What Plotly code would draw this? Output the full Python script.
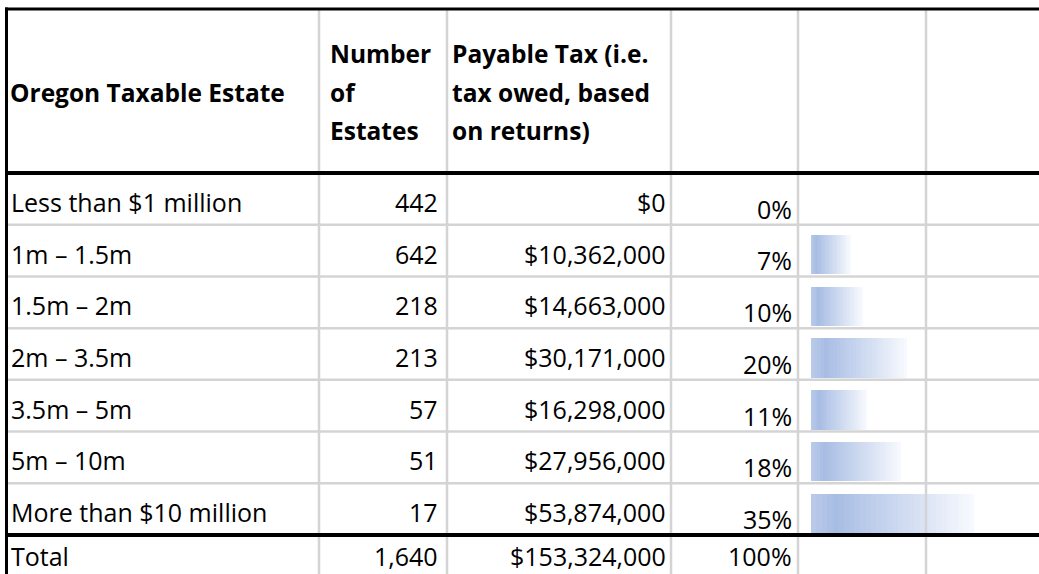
import plotly.graph_objects as go

# ---------------- data ----------------
header_estate = ["Oregon Taxable Estate"]
header_count = ["Number", "of", "Estates"]
header_tax = ["Payable Tax (i.e.", "tax owed, based", "on returns)"]

categories = ["Less than $1 million", "1m \u2013 1.5m", "1.5m \u2013 2m", "2m \u2013 3.5m",
              "3.5m \u2013 5m", "5m \u2013 10m", "More than $10 million"]
estates = [442, 642, 218, 213, 57, 51, 17]
payable_tax = [0, 10362000, 14663000, 30171000, 16298000, 27956000, 53874000]
total_label = "Total"

total_estates = sum(estates)
total_tax = sum(payable_tax)
shares = [t / total_tax for t in payable_tax]

# ---------------- layout constants (pixels) ----------------
W, H = 1039, 574
col_lines = [319, 447, 671, 798, 926]
left_x = 6.5
top_y = 9
head_bottom = 173
row_h = (535 - 173) / 7
n = len(categories)
row_lines = [head_bottom + i * row_h for i in range(n + 1)]

FONT = "Open Sans"
BODY = 25
HEAD = 24.5
GRID = "#D4D4D4"

fig = go.Figure()

# ---------- data bars (gradient via overlaid segments) ----------
NSEG = 30
BAR_MIN = -0.0236          # data-bar axis starts slightly below zero (Excel minimum bar length)
c_left = (188, 203, 234)
c_peak = (168, 189, 228)
c_end = (248, 250, 254)


def seg_color(f):
    if f < 0.15:
        t = f / 0.15
        a, b = c_left, c_peak
    else:
        t = (f - 0.15) / 0.85
        a, b = c_peak, c_end
    return "rgb(%d,%d,%d)" % tuple(round(a[i] + (b[i] - a[i]) * t) for i in range(3))


seg_len = [((s - BAR_MIN) / NSEG) if s > 0 else 0 for s in shares]
for k in range(NSEG):
    fig.add_trace(go.Bar(
        y=list(range(n)), x=seg_len, base=[BAR_MIN + k * L for L in seg_len],
        orientation="h", xaxis="x2", yaxis="y2", width=0.76, offset=-0.3,
        marker=dict(color=seg_color((k + 0.5) / NSEG), line=dict(width=0)),
        hoverinfo="skip", showlegend=False))

shapes = []
for y in row_lines[1:-1]:
    shapes.append(dict(type="line", xref="x", yref="y", x0=left_x, x1=W, y0=y, y1=y,
                       line=dict(color=GRID, width=2.5)))
for x in col_lines:
    shapes.append(dict(type="line", xref="x", yref="y", x0=x, x1=x, y0=top_y, y1=H,
                       line=dict(color=GRID, width=2.5)))
for y, wdt in [(top_y, 3), (head_bottom, 4), (row_lines[-1], 4)]:
    shapes.append(dict(type="line", xref="x", yref="y", x0=left_x - 1.5, x1=W, y0=y, y1=y,
                       line=dict(color="black", width=wdt)))
shapes.append(dict(type="line", xref="x", yref="y", x0=left_x, x1=left_x, y0=top_y - 1.5, y1=H,
                   line=dict(color="black", width=3)))

ann = []


def txt(x, y, s, anchor, bold=False, size=BODY):
    ann.append(dict(x=x, y=y, xref="x", yref="y", text=("<b>%s</b>" % s) if bold else s,
                    showarrow=False, xanchor=anchor, yanchor="middle",
                    font=dict(family=FONT, size=size, color="black")))


head_mid = 92
pitch = 38.5
txt(8, head_mid, header_estate[0], "left", True, HEAD)
for i, s in enumerate(header_count):
    txt(328, head_mid + (i - 1) * pitch, s, "left", True, HEAD)
for i, s in enumerate(header_tax):
    txt(450, head_mid + (i - 1) * pitch, s, "left", True, HEAD)

for i in range(n):
    yc = row_lines[i] + row_h / 2 + 3
    txt(9, yc, categories[i], "left")
    txt(440, yc, f"{estates[i]:,}", "right")
    txt(668, yc, f"${payable_tax[i]:,}", "right")
    txt(794, row_lines[i + 1] - 16, f"{round(shares[i] * 100)}%", "right")

yt = row_lines[-1] + 21
txt(9, yt, total_label, "left")
txt(440, yt, f"{total_estates:,}", "right")
txt(668, yt, f"${total_tax:,}", "right")
txt(794, yt, "100%", "right")

fig.update_layout(
    width=W, height=H, margin=dict(l=0, r=0, t=0, b=0),
    paper_bgcolor="white", plot_bgcolor="white",
    xaxis=dict(range=[0, W], visible=False, domain=[0, 1], fixedrange=True),
    yaxis=dict(range=[H, 0], visible=False, domain=[0, 1], fixedrange=True),
    xaxis2=dict(range=[BAR_MIN, max(shares)], visible=False, anchor="y2",
                domain=[811 / W, 974 / W], fixedrange=True),
    yaxis2=dict(range=[n - 0.5, -0.5], visible=False, anchor="x2",
                domain=[1 - row_lines[-1] / H, 1 - head_bottom / H], fixedrange=True),
    barmode="overlay", bargap=0,
    shapes=shapes, annotations=ann,
)

fig.write_html("out.html", config={"displayModeBar": False},
               post_script="document.body.style.margin='0px';document.body.style.overflow='hidden';")
